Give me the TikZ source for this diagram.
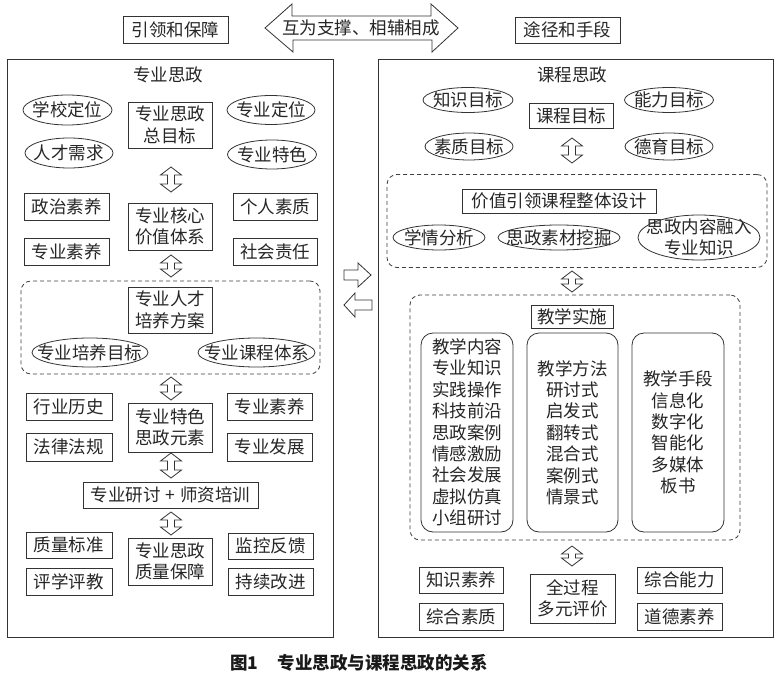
\documentclass[tikz,border=0pt]{standalone}
\usepackage{fontspec}
\setmainfont{Noto Sans CJK SC}
\usetikzlibrary{calc}
\tikzset{
  base/.style={font=\fontsize{17.5pt}{21.4pt}\selectfont, text=black!85, inner sep=0pt, align=center},
  rbox/.style={base, draw=black!80, line width=0.8pt},
  frame/.style={draw=black!80, line width=0.9pt, inner sep=0pt},
  dbox/.style={draw=black!75, line width=0.8pt, dash pattern=on 4pt off 3pt, rounded corners=10pt, inner sep=0pt},
  cbox/.style={base, draw=black!80, line width=0.8pt, rounded corners=12pt},
  oval/.style={draw=black!80, line width=0.8pt},
  hollow/.style={draw=black!80, line width=0.8pt, fill=white, line join=miter},
}
\newcommand{\vdarr}[2]{%
  \draw[hollow] let \p1=(#1), \p2=(#2) in
    (\x1,\y1) -- ({\x1+10.5pt},{\y1-8pt}) -- ({\x1+3.5pt},{\y1-8pt}) -- ({\x1+3.5pt},{\y2+8pt})
    -- ({\x1+10.5pt},{\y2+8pt}) -- (\x1,\y2) -- ({\x1-10.5pt},{\y2+8pt}) -- ({\x1-3.5pt},{\y2+8pt})
    -- ({\x1-3.5pt},{\y1-8pt}) -- ({\x1-10.5pt},{\y1-8pt}) -- cycle;}
% #1 tail, #2 tip, #3 signed head length
\newcommand{\harr}[3]{%
  \draw[hollow] let \p1=(#1), \p2=(#2) in
    (\x1,{\y1+5pt}) -- ({\x2-(#3)},{\y1+5pt}) -- ({\x2-(#3)},{\y1+12pt}) -- (\x2,\y2)
    -- ({\x2-(#3)},{\y1-12pt}) -- ({\x2-(#3)},{\y1-5pt}) -- (\x1,{\y1-5pt}) -- cycle;}
\begin{document}
\begin{tikzpicture}[x=1pt,y=-1pt]
\useasboundingbox[fill=white] (0,0) rectangle (780,677);

% ---------- top row ----------
\node[rbox, minimum width=105pt, minimum height=27pt] (lead) at (175.5,29.5) {引领和保障};
\node[rbox, minimum width=105pt, minimum height=26pt] (means) at (567.5,30) {途径和手段};
\coordinate (mutL) at (265,28);
\coordinate (mutR) at (458,28);
\draw[hollow] (mutL) -- ++(27,-24) -- ++(0,12) -- ++(139,0) -- ++(0,-12) -- (mutR)
  -- ++(-26,24) -- ++(0,-12) -- ++(-139,0) -- ++(0,12) -- cycle;
\node[base] (mutual) at (361,28) {互为支撑、相辅相成};

% ---------- big frames ----------
\node[frame, minimum width=326pt, minimum height=578pt] (L) at (170,348) {};
\node[frame, minimum width=395pt, minimum height=578pt] (R) at (575.5,348) {};
\node[base] (Lt) at (168,75) {专业思政};
\node[base] (Rt) at (572,75) {课程思政};

% ---------- left: 专业思政 ----------
\node[base] (e1) at (67.5,110) {学校定位};
\draw[oval] (e1.center) ellipse [x radius=44.5, y radius=15];
\node[base] (e2) at (69,153) {人才需求};
\draw[oval] (e2.center) ellipse [x radius=44, y radius=15];
\node[base] (e3) at (271,110) {专业定位};
\draw[oval] (e3.center) ellipse [x radius=44, y radius=14.5];
\node[base] (e4) at (272,154.5) {专业特色};
\draw[oval] (e4.center) ellipse [x radius=44.5, y radius=14.5];
\node[rbox, minimum width=84pt, minimum height=46pt] (goal) at (170,125) {专业思政\\总目标};

\node[rbox, minimum width=85pt, minimum height=27pt] (p1) at (66.5,206.5) {政治素养};
\node[rbox, minimum width=85pt, minimum height=27pt] (p2) at (66.5,251.5) {专业素养};
\node[rbox, minimum width=84pt, minimum height=27pt] (p3) at (275,206.5) {个人素质};
\node[rbox, minimum width=84pt, minimum height=27pt] (p4) at (275,251.5) {社会责任};
\node[rbox, minimum width=84pt, minimum height=47pt] (core) at (170,226.5) {专业核心\\价值体系};

\node[dbox, minimum width=299pt, minimum height=93pt] (LD) at (170.5,327.5) {};
\node[rbox, minimum width=84pt, minimum height=46pt] (plan) at (170,310) {专业人才\\培养方案};
\node[base] (e5) at (90,352.5) {专业培养目标};
\draw[oval] (e5.center) ellipse [x radius=58, y radius=14.5];
\node[base] (e6) at (256.5,352.5) {专业课程体系};
\draw[oval] (e6.center) ellipse [x radius=58.5, y radius=14.5];

\node[rbox, minimum width=86pt, minimum height=27pt] (q1) at (69,406.5) {行业历史};
\node[rbox, minimum width=86pt, minimum height=28pt] (q2) at (69,447) {法律法规};
\node[rbox, minimum width=85pt, minimum height=27pt] (q3) at (269.5,406.5) {专业素养};
\node[rbox, minimum width=85pt, minimum height=28pt] (q4) at (269.5,447) {专业发展};
\node[rbox, minimum width=84pt, minimum height=49pt] (elem) at (170,427.5) {专业特色\\思政元素};

\node[rbox, minimum width=175pt, minimum height=26pt] (train) at (170.5,495) {专业研讨\hspace{5pt}+\hspace{5pt}师资培训};

\node[rbox, minimum width=86pt, minimum height=26pt] (r1) at (69,545) {质量标准};
\node[rbox, minimum width=86pt, minimum height=27pt] (r2) at (69,581.5) {评学评教};
\node[rbox, minimum width=85pt, minimum height=26pt] (r3) at (270.5,546) {监控反馈};
\node[rbox, minimum width=85pt, minimum height=27pt] (r4) at (270.5,581.5) {持续改进};
\node[rbox, minimum width=84pt, minimum height=47pt] (qa) at (170,561.5) {专业思政\\质量保障};

% left vertical double arrows
\coordinate (la1) at (171,167); \coordinate (lb1) at (171,192);
\coordinate (la2) at (171,255); \coordinate (lb2) at (171,277);
\coordinate (la3) at (171,377); \coordinate (lb3) at (171,400);
\coordinate (la4) at (171,453); \coordinate (lb4) at (171,478);
\coordinate (la5) at (171,512); \coordinate (lb5) at (171,535);
\vdarr{la1}{lb1}
\vdarr{la2}{lb2}
\vdarr{la3}{lb3}
\vdarr{la4}{lb4}
\vdarr{la5}{lb5}

% ---------- middle arrows ----------
\coordinate (m1a) at (344,275); \coordinate (m1b) at (371,275);
\coordinate (m2a) at (372,305); \coordinate (m2b) at (344,305);
\harr{m1a}{m1b}{13pt}
\harr{m2a}{m2b}{-11pt}

% ---------- right: 课程思政 ----------
\node[base] (f1) at (468,100) {知识目标};
\draw[oval] (f1.center) ellipse [x radius=45, y radius=12.5];
\node[base] (f2) at (669,100) {能力目标};
\draw[oval] (f2.center) ellipse [x radius=44.5, y radius=12.5];
\node[base] (f3) at (469,146.5) {素质目标};
\draw[oval] (f3.center) ellipse [x radius=44, y radius=13.5];
\node[base] (f4) at (669,146.5) {德育目标};
\draw[oval] (f4.center) ellipse [x radius=44, y radius=13.5];
\node[rbox, minimum width=84pt, minimum height=25pt] (cgoal) at (571,115.5) {课程目标};

\node[dbox, minimum width=380pt, minimum height=93pt] (RD1) at (577,221) {};
\node[rbox, minimum width=194pt, minimum height=24pt] (design) at (559,201) {价值引领课程整体设计};
\node[base] (g1) at (439,237.5) {学情分析};
\draw[oval] (g1.center) ellipse [x radius=46, y radius=12.5];
\node[base] (g2) at (559,237.5) {思政素材挖掘};
\draw[oval] (g2.center) ellipse [x radius=61, y radius=12.5];
\node[base] (g3) at (699,237.5) {思政内容融入\\专业知识};
\draw[oval] (g3.center) ellipse [x radius=61, y radius=22.5];

\node[dbox, minimum width=330pt, minimum height=245pt] (RD2) at (575,417.5) {};
\node[rbox, minimum width=82pt, minimum height=23pt] (impl) at (572,316.5) {教学实施};
\node[cbox, minimum width=92pt, minimum height=199pt] (c1) at (467,432.5)
  {教学内容\\专业知识\\实践操作\\科技前沿\\思政案例\\情感激励\\社会发展\\虚拟仿真\\小组研讨};
\node[cbox, minimum width=91pt, minimum height=199pt] (c2) at (572.5,432.5)
  {教学方法\\研讨式\\启发式\\翻转式\\混合式\\案例式\\情景式};
\node[cbox, minimum width=92pt, minimum height=199pt] (c3) at (678,432.5)
  {教学手段\\信息化\\数字化\\智能化\\多媒体\\板书};

\node[rbox, minimum width=84pt, minimum height=26pt] (s1) at (461,580) {知识素养};
\node[rbox, minimum width=84pt, minimum height=27pt] (s2) at (461,616.5) {综合素质};
\node[rbox, minimum width=85pt, minimum height=26pt] (s3) at (679.5,580) {综合能力};
\node[rbox, minimum width=85pt, minimum height=27pt] (s4) at (679.5,616.5) {道德素养};
\node[rbox, minimum width=85pt, minimum height=49pt] (eval) at (572.5,598.5) {全过程\\多元评价};

% right vertical double arrows
\coordinate (ra1) at (572,138); \coordinate (rb1) at (572,163);
\coordinate (ra2) at (572,271); \coordinate (rb2) at (572,292);
\coordinate (ra3) at (572,546); \coordinate (rb3) at (572,566);
\vdarr{ra1}{rb1}
\vdarr{ra2}{rb2}
\vdarr{ra3}{rb3}

% ---------- caption ----------
\node[base, font=\fontsize{17.5pt}{20pt}\selectfont\bfseries, text=black!90] (cap) at (359,663)
  {图1\hspace{1.1em}专业思政与课程思政的关系};
\end{tikzpicture}
\end{document}
